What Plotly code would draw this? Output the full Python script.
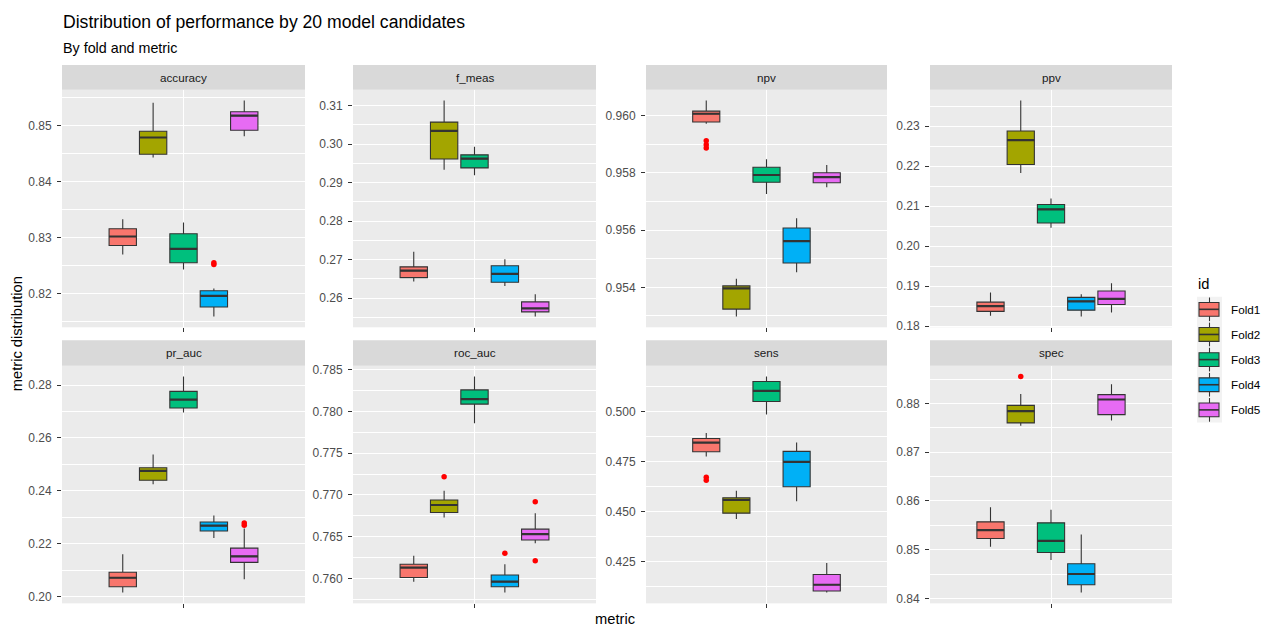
import plotly.graph_objects as go

# ---- data: box statistics per metric, one value per fold ----
metrics = ["accuracy", "f_meas", "npv", "ppv", "pr_auc", "roc_auc", "sens", "spec"]
folds = ["Fold1", "Fold2", "Fold3", "Fold4", "Fold5"]

whisker_low = {
    "accuracy": [0.8270, 0.8443, 0.8243, 0.8159, 0.8481],
    "f_meas":   [0.2643, 0.2933, 0.2919, 0.2631, 0.2552],
    "npv":      [0.95971, 0.95298, 0.95726, 0.95453, 0.95749],
    "ppv":      [0.1826, 0.2183, 0.2046, 0.1824, 0.1834],
    "pr_auc":   [0.2015, 0.2425, 0.2696, 0.2221, 0.2065],
    "roc_auc":  [0.7596, 0.7673, 0.7786, 0.7583, 0.7642],
    "sens":     [0.4774, 0.4462, 0.4984, 0.4550, 0.4094],
    "spec":     [0.8506, 0.8754, 0.8479, 0.8412, 0.8765],
}
quart_1 = {
    "accuracy": [0.8286, 0.8449, 0.8255, 0.8176, 0.8492],
    "f_meas":   [0.2653, 0.2961, 0.2938, 0.2641, 0.2564],
    "npv":      [0.95977, 0.95324, 0.95767, 0.95485, 0.95765],
    "ppv":      [0.1837, 0.2204, 0.2058, 0.1840, 0.1854],
    "pr_auc":   [0.2037, 0.2440, 0.2713, 0.2248, 0.2129],
    "roc_auc":  [0.7601, 0.7679, 0.7809, 0.7590, 0.7646],
    "sens":     [0.4798, 0.4491, 0.5049, 0.4623, 0.4102],
    "spec":     [0.8523, 0.8760, 0.8494, 0.8428, 0.8777],
}
medians = {
    "accuracy": [0.8302, 0.8479, 0.8280, 0.8196, 0.8518],
    "f_meas":   [0.2671, 0.3034, 0.2962, 0.2663, 0.2573],
    "npv":      [0.96006, 0.95396, 0.95792, 0.95561, 0.95785],
    "ppv":      [0.1850, 0.2265, 0.2092, 0.1862, 0.1868],
    "pr_auc":   [0.2071, 0.2475, 0.2745, 0.2268, 0.2152],
    "roc_auc":  [0.7613, 0.7688, 0.7815, 0.7596, 0.7653],
    "sens":     [0.4844, 0.4557, 0.5102, 0.4747, 0.4133],
    "spec":     [0.8540, 0.8784, 0.8518, 0.8450, 0.8808],
}
quart_3 = {
    "accuracy": [0.8316, 0.8490, 0.8307, 0.8205, 0.8525],
    "f_meas":   [0.2681, 0.3057, 0.2972, 0.2684, 0.2590],
    "npv":      [0.96015, 0.95405, 0.95819, 0.95607, 0.95800],
    "ppv":      [0.1860, 0.2288, 0.2104, 0.1872, 0.1888],
    "pr_auc":   [0.2092, 0.2487, 0.2776, 0.2282, 0.2183],
    "roc_auc":  [0.7617, 0.7694, 0.7826, 0.7604, 0.7659],
    "sens":     [0.4864, 0.4568, 0.5149, 0.4800, 0.4184],
    "spec":     [0.8557, 0.8796, 0.8555, 0.8471, 0.8818],
}
whisker_high = {
    "accuracy": [0.8333, 0.8541, 0.8327, 0.8209, 0.8545],
    "f_meas":   [0.2720, 0.3113, 0.2993, 0.2701, 0.2610],
    "npv":      [0.96052, 0.95430, 0.95847, 0.95641, 0.95827],
    "ppv":      [0.1884, 0.2364, 0.2119, 0.1880, 0.1907],
    "pr_auc":   [0.2160, 0.2537, 0.2832, 0.2306, 0.2257],
    "roc_auc":  [0.7627, 0.7705, 0.7842, 0.7617, 0.7678],
    "sens":     [0.4892, 0.4603, 0.5174, 0.4844, 0.4242],
    "spec":     [0.8587, 0.8819, 0.8582, 0.8531, 0.8839],
}
outliers = {
    "accuracy": [[], [], [], [0.8255, 0.8252], []],
    "f_meas":   [[], [], [], [], []],
    "npv":      [[0.95912, 0.95898, 0.95886], [], [], [], []],
    "ppv":      [[], [], [], [], []],
    "pr_auc":   [[], [], [], [], [0.2278, 0.2270]],
    "roc_auc":  [[], [0.7722], [], [0.7630], [0.7692, 0.7621]],
    "sens":     [[0.4670, 0.4655], [], [], [], []],
    "spec":     [[], [0.8855], [], [], []],
}

# axis breaks and label formats for each facet
tick_step = {"accuracy": 0.01, "f_meas": 0.01, "npv": 0.002, "ppv": 0.01,
             "pr_auc": 0.02, "roc_auc": 0.005, "sens": 0.025, "spec": 0.01}
tick_fmt = {"accuracy": ".2f", "f_meas": ".2f", "npv": ".3f", "ppv": ".2f",
            "pr_auc": ".2f", "roc_auc": ".3f", "sens": ".3f", "spec": ".2f"}

fold_colors = ["#F8766D", "#A3A500", "#00BF7D", "#00B0F6", "#E76BF3"]

# ---- geometry (pixels) ----
W, H = 1265, 633
col_px = [(62, 305), (353, 596), (646, 887), (930, 1172)]
row_px = [(88, 329), (368, 609)]
strip_px = [(63, 88), (342, 368)]

dodge = [-0.30, -0.15, 0.0, 0.15, 0.30]
box_w = 0.135

FONT = "Liberation Sans, Arial, sans-serif"
OUTLINE = "#333333"


def px(x):
    return x / W


def py(y):
    return 1 - y / H


fig = go.Figure()
shapes = []
annotations = []
layout_axes = {}

for k, m in enumerate(metrics):
    r, c = divmod(k, 4)
    idx = k + 1
    xa = "x" if idx == 1 else f"x{idx}"
    ya = "y" if idx == 1 else f"y{idx}"

    for f in range(5):
        pos = 1 + dodge[f]
        fig.add_trace(go.Box(
            x=[pos], q1=[quart_1[m][f]], median=[medians[m][f]], q3=[quart_3[m][f]],
            lowerfence=[whisker_low[m][f]], upperfence=[whisker_high[m][f]],
            width=box_w, fillcolor=fold_colors[f],
            line=dict(color=OUTLINE, width=1.1), whiskerwidth=0,
            boxpoints=False, showlegend=False, name=folds[f],
            xaxis=xa, yaxis=ya, hoverinfo="skip",
        ))
        # thicker median bar
        fig.add_trace(go.Scatter(
            x=[pos - box_w / 2, pos + box_w / 2], y=[medians[m][f], medians[m][f]],
            mode="lines", line=dict(color=OUTLINE, width=2.2),
            showlegend=False, xaxis=xa, yaxis=ya, hoverinfo="skip",
        ))
        if outliers[m][f]:
            fig.add_trace(go.Scatter(
                x=[pos] * len(outliers[m][f]), y=outliers[m][f], mode="markers",
                marker=dict(color="red", size=5.5, line=dict(width=0)),
                showlegend=False, xaxis=xa, yaxis=ya, hoverinfo="skip",
            ))

    # y range: data extent expanded by 5% on each side
    vals = whisker_low[m] + whisker_high[m] + [v for o in outliers[m] for v in o]
    lo, hi = min(vals), max(vals)
    pad = (hi - lo) * 0.05

    x0, x1 = col_px[c]
    y0, y1 = row_px[r]
    layout_axes["xaxis" if idx == 1 else f"xaxis{idx}"] = dict(
        domain=[px(x0), px(x1)], range=[0.4, 1.6], anchor=ya,
        tickvals=[1], ticktext=[""], ticks="outside", ticklen=4,
        tickcolor=OUTLINE, tickwidth=1.07, showgrid=True, gridcolor="white",
        gridwidth=1.07, zeroline=False, showline=False,
    )
    layout_axes["yaxis" if idx == 1 else f"yaxis{idx}"] = dict(
        domain=[py(y1), py(y0)], range=[lo - pad, hi + pad], anchor=xa,
        tick0=0, dtick=tick_step[m], tickformat=tick_fmt[m],
        ticks="outside", ticklen=4, tickcolor=OUTLINE, tickwidth=1.07,
        ticklabelstandoff=3,
        tickfont=dict(family=FONT, size=12, color="#4D4D4D"),
        showgrid=True, gridcolor="white", gridwidth=1.07,
        minor=dict(dtick=tick_step[m] / 2, tick0=0, showgrid=True,
                   gridcolor="white", gridwidth=0.55, ticklen=0),
        zeroline=False, showline=False,
    )

    # facet strip
    s0, s1 = strip_px[r]
    shapes.append(dict(type="rect", xref="paper", yref="paper",
                       x0=px(x0), x1=px(x1), y0=py(s1), y1=py(s0),
                       fillcolor="#D9D9D9", line=dict(width=0), layer="below"))
    annotations.append(dict(text=m, xref="paper", yref="paper",
                            x=px((x0 + x1) / 2), y=py((s0 + s1) / 2),
                            xanchor="center", yanchor="middle", showarrow=False,
                            font=dict(family=FONT, size=11.7, color="#1A1A1A")))

# ---- legend drawn as boxplot keys ----
key_x0, key_x1 = 1197, 1222
key_top = 298
key_step = 25.5
shapes.append(dict(type="rect", xref="paper", yref="paper",
                   x0=px(key_x0), x1=px(key_x1), y0=py(key_top + 5 * key_step),
                   y1=py(key_top), fillcolor="#F2F2F2", line=dict(width=0)))
for f in range(5):
    cy = key_top + key_step * (f + 0.5)
    cx = (key_x0 + key_x1) / 2
    shapes.append(dict(type="line", xref="paper", yref="paper",
                       x0=px(cx), x1=px(cx), y0=py(cy - 12), y1=py(cy + 12),
                       line=dict(color=OUTLINE, width=1.07)))
    shapes.append(dict(type="rect", xref="paper", yref="paper",
                       x0=px(key_x0 + 2), x1=px(key_x1 - 3), y0=py(cy + 7), y1=py(cy - 7),
                       fillcolor=fold_colors[f], line=dict(color=OUTLINE, width=1.07)))
    shapes.append(dict(type="line", xref="paper", yref="paper",
                       x0=px(key_x0 + 2), x1=px(key_x1 - 3), y0=py(cy), y1=py(cy),
                       line=dict(color=OUTLINE, width=1.6)))
    annotations.append(dict(text=folds[f], xref="paper", yref="paper",
                            x=px(1229), y=py(cy), xanchor="left", yanchor="middle",
                            showarrow=False,
                            font=dict(family=FONT, size=11.7, color="black")))
annotations.append(dict(text="id", xref="paper", yref="paper",
                        x=px(1196), y=py(285), xanchor="left", yanchor="middle",
                        showarrow=False, font=dict(family=FONT, size=14.7, color="black")))

# ---- titles ----
annotations += [
    dict(text="Distribution of performance by 20 model candidates", xref="paper",
         yref="paper", x=px(61), y=py(19), xanchor="left", yanchor="middle",
         showarrow=False, font=dict(family=FONT, size=17.6, color="black")),
    dict(text="By fold and metric", xref="paper", yref="paper", x=px(61), y=py(46),
         xanchor="left", yanchor="middle", showarrow=False,
         font=dict(family=FONT, size=14.3, color="black")),
    dict(text="metric", xref="paper", yref="paper", x=px(615), y=py(625),
         xanchor="center", yanchor="middle", showarrow=False,
         font=dict(family=FONT, size=14.7, color="black")),
    dict(text="metric distribution", xref="paper", yref="paper", x=px(17), y=py(336),
         xanchor="center", yanchor="middle", textangle=-90, showarrow=False,
         font=dict(family=FONT, size=14.7, color="black")),
]

fig.update_layout(
    width=W, height=H, margin=dict(l=0, r=0, t=0, b=0),
    paper_bgcolor="white", plot_bgcolor="#EBEBEB",
    boxmode="overlay", showlegend=False,
    shapes=shapes, annotations=annotations,
    font=dict(family=FONT),
    **layout_axes,
)

fig.write_html("out.html")
